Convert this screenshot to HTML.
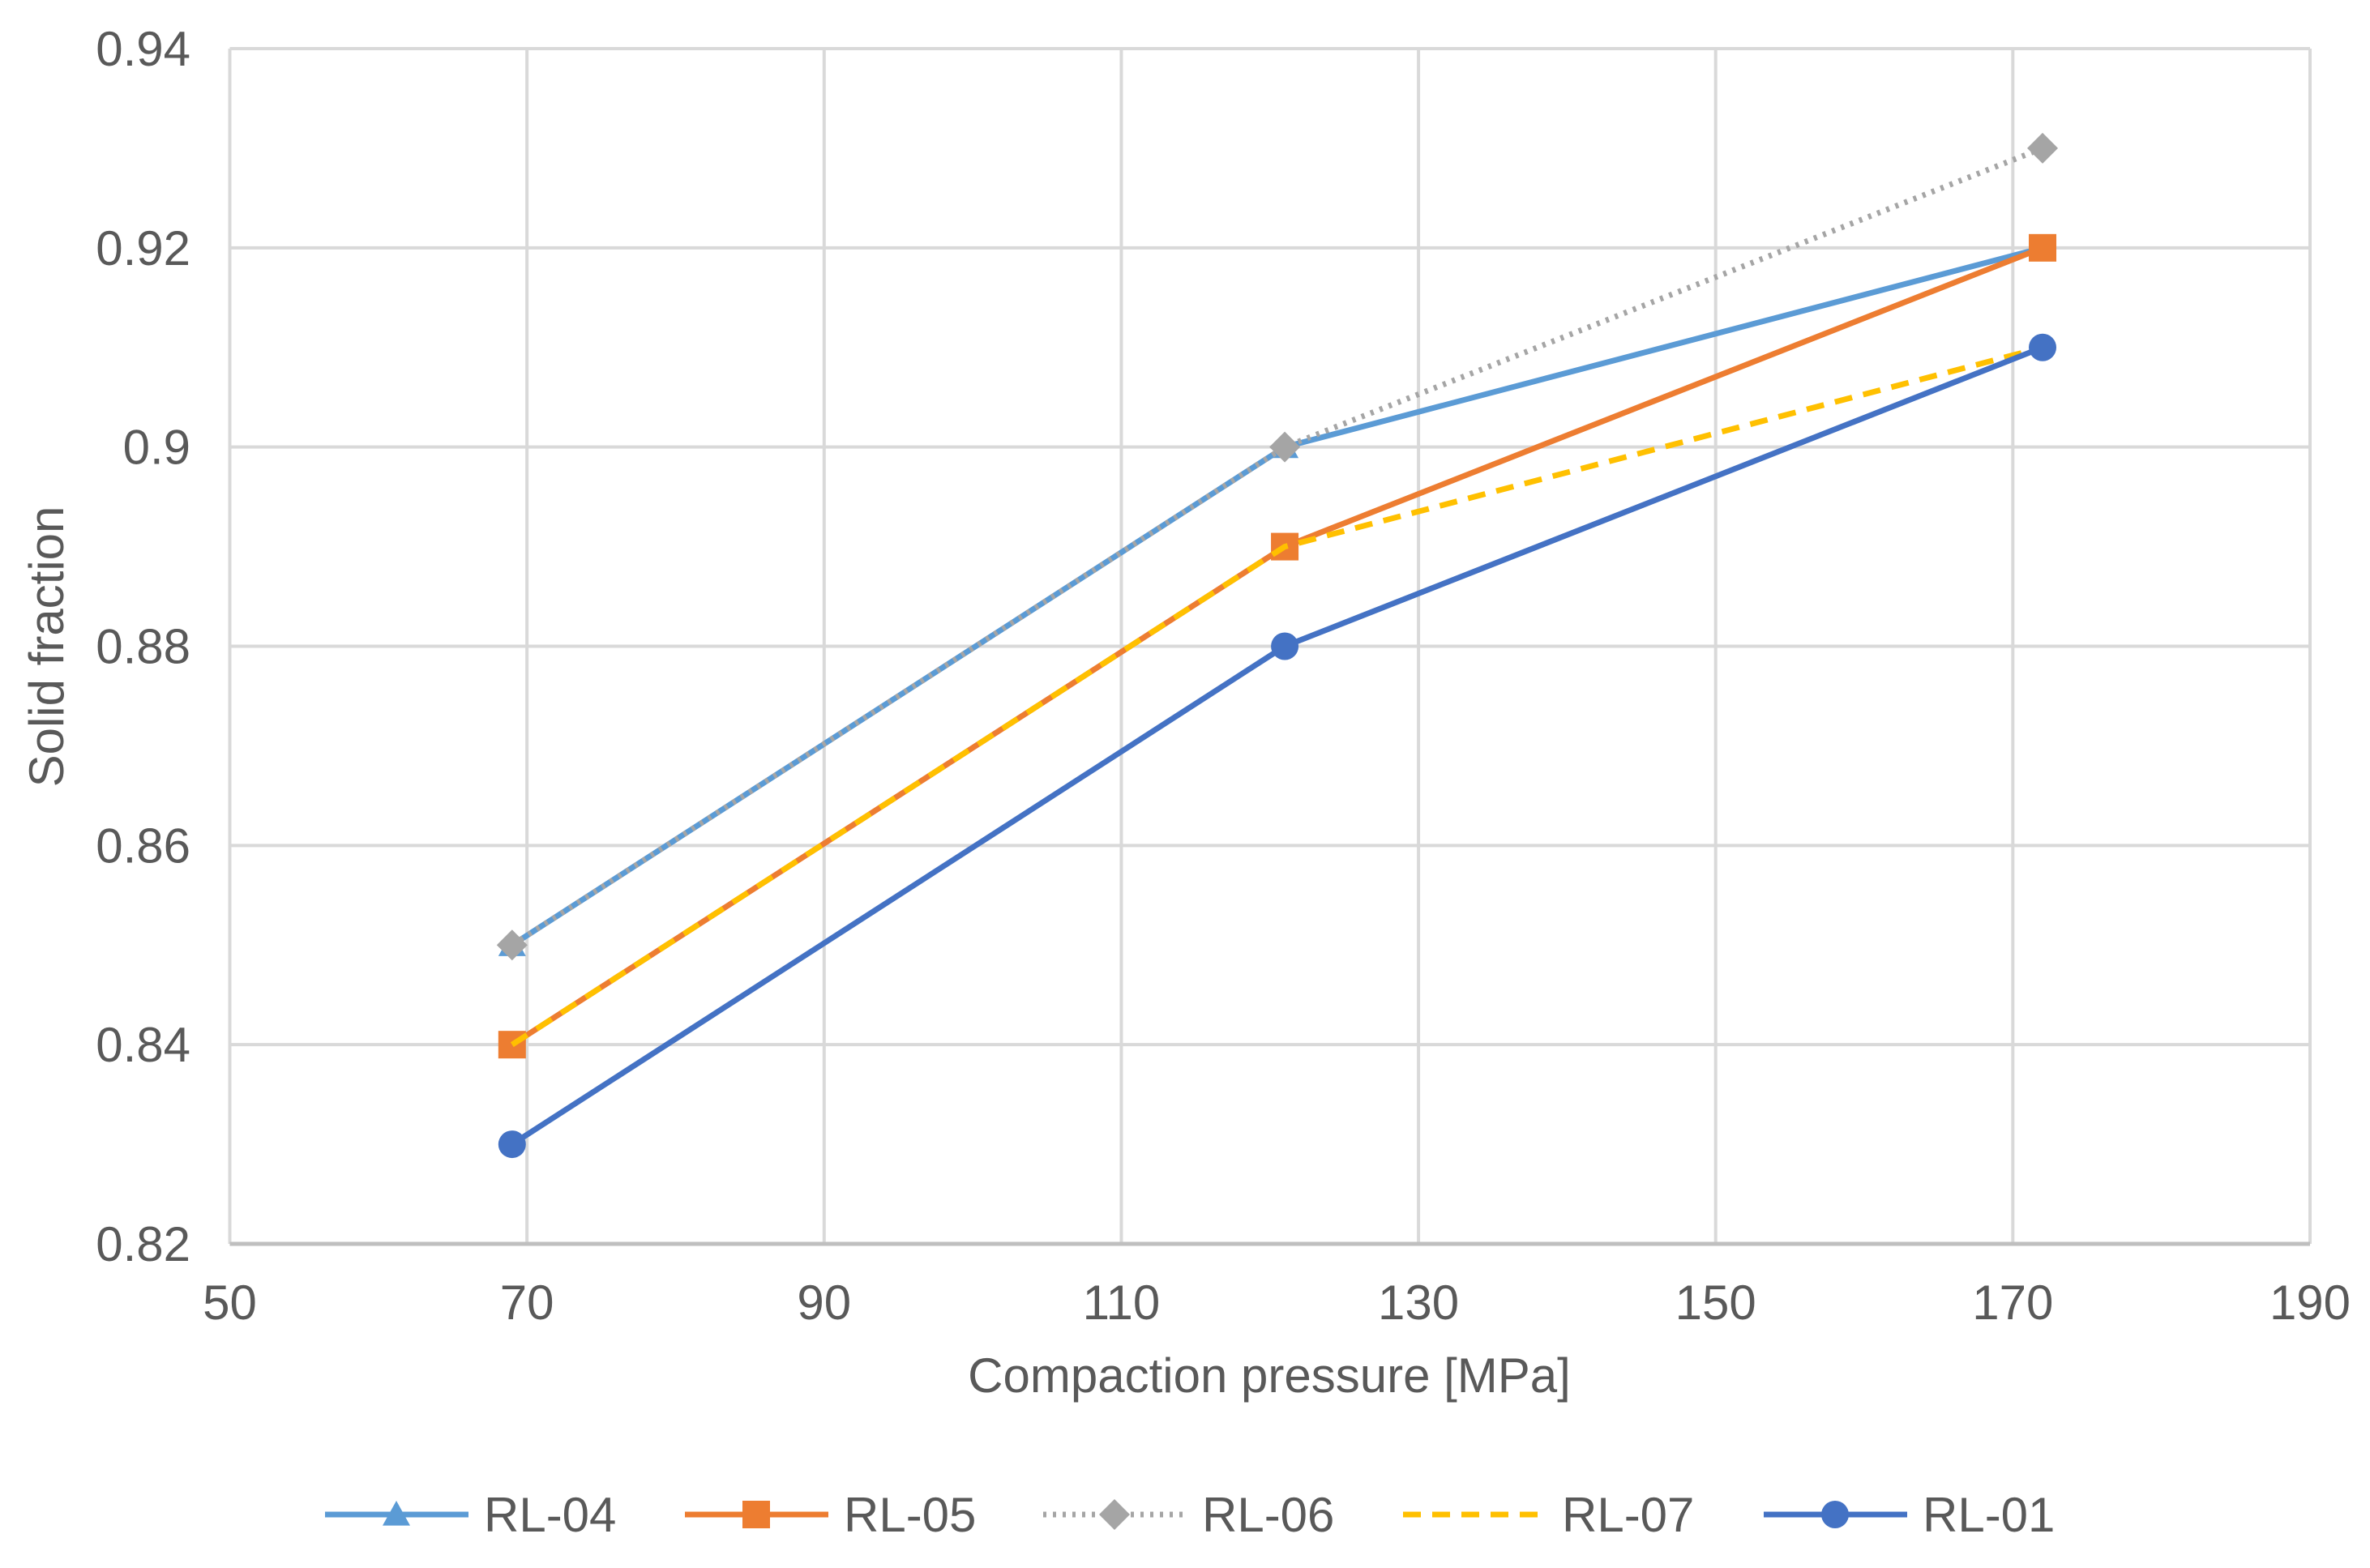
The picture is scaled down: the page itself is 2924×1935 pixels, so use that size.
<!DOCTYPE html>
<html><head><meta charset="utf-8"><style>
html,body{margin:0;padding:0;background:#fff;}
svg{display:block;font-family:"Liberation Sans",Arial,sans-serif;}
</style></head><body>
<svg id="chart" width="2924" height="1935" viewBox="0 0 2924 1935">
<g id="grid"></g>
<g id="axes"></g>
<g id="series"></g>
<text x="78" y="798" transform="rotate(-90 78 798)" text-anchor="middle" font-size="60" fill="#595959">Solid fraction</text>
<text x="1566" y="1718" text-anchor="middle" font-size="60" fill="#595959">Compaction pressure [MPa]</text>
<g id="legend"></g>
</svg>
<script>
const seriesNames = ["RL-04","RL-05","RL-06","RL-07","RL-01"];
const xValues = [69,121,172];
const rl04 = [0.85,0.90,0.92];
const rl05 = [0.84,0.89,0.92];
const rl06 = [0.85,0.90,0.93];
const rl07 = [0.84,0.89,0.91];
const rl01 = [0.83,0.88,0.91];
const xTicks = [50,70,90,110,130,150,170,190];
const yTicks = [0.82,0.84,0.86,0.88,0.90,0.92,0.94];
const yTickLabels = ["0.82","0.84","0.86","0.88","0.9","0.92","0.94"];

const NS="http://www.w3.org/2000/svg";
const L=283.5,R=2850,T=60,B=1535;
const sx=v=>L+(v-50)/(190-50)*(R-L);
const sy=v=>B-(v-0.82)/(0.94-0.82)*(B-T);
function mk(tag,attrs,parent){const e=document.createElementNS(NS,tag);for(const k in attrs)e.setAttribute(k,attrs[k]);parent.appendChild(e);return e;}
const grid=document.getElementById('grid'),axes=document.getElementById('axes'),ser=document.getElementById('series'),leg=document.getElementById('legend');
xTicks.forEach(t=>{const l=mk('line',{x1:sx(t),x2:sx(t),y1:T,y2:B,stroke:'#d9d9d9','stroke-width':4},grid);


const tx=mk('text',{x:sx(t),y:1628,'text-anchor':'middle','font-size':60,fill:'#595959'},axes);tx.textContent=t;

});
yTicks.forEach((t,i)=>{if(i>0){const l=mk('line',{x1:L,x2:R,y1:sy(t),y2:sy(t),stroke:'#d9d9d9','stroke-width':4},grid);

}
const tx=mk('text',{x:235,y:sy(t)+21,'text-anchor':'end','font-size':60,fill:'#595959'},axes);tx.textContent=yTickLabels[i];

});
const xa=mk('line',{x1:L,x2:R,y1:B,y2:B,stroke:'#bfbfbf','stroke-width':5},axes);



const cfg=[
 {d:rl04,c:'#5B9BD5',dash:'',m:'tri'},
 {d:rl05,c:'#ED7D31',dash:'',m:'sq'},
 {d:rl06,c:'#A5A5A5',dash:'4 8',m:'dia'},
 {d:rl07,c:'#FFC000',dash:'22 14',m:'none'},
 {d:rl01,c:'#4472C4',dash:'',m:'circ'}];
function marker(type,x,y,c,parent,s){
 let e=null;
 if(type==='tri')e=mk('polygon',{points:`${x},${y-s} ${x-s},${y+s*0.8} ${x+s},${y+s*0.8}`,fill:c},parent);
 else if(type==='sq')e=mk('rect',{x:x-s,y:y-s,width:2*s,height:2*s,fill:c},parent);
 else if(type==='dia')e=mk('polygon',{points:`${x},${y-s} ${x+s},${y} ${x},${y+s} ${x-s},${y}`,fill:c},parent);
 else if(type==='circ')e=mk('circle',{cx:x,cy:y,r:s,fill:c},parent);
 if(e){
 }
}
cfg.forEach((s,i)=>{
 const g=mk('g',{},ser);
 
 
 const pts=s.d.map((v,j)=>sx(xValues[j])+','+sy(v)).join(' ');
 const pl=mk('polyline',{points:pts,fill:'none',stroke:s.c,'stroke-width':7,'stroke-dasharray':s.dash,'stroke-linejoin':'round'},g);
 
 
 s.d.forEach((v,j)=>marker(s.m,sx(xValues[j]),sy(v),s.c,g,s.m==='dia'?19:17));
 const lx=[401,845,1287,1731,2176][i], ly=1869;
 const lg=mk('g',{},leg);
 
 
 mk('line',{x1:lx,x2:lx+177,y1:ly,y2:ly,stroke:s.c,'stroke-width':7,'stroke-dasharray':s.dash},lg);
 marker(s.m,lx+88,ly,s.c,lg,s.m==='dia'?19:17);
 const t=mk('text',{x:lx+196,y:ly+21,'font-size':60,fill:'#595959'},lg);t.textContent=seriesNames[i];
 
 
});
</script>
</body></html>
